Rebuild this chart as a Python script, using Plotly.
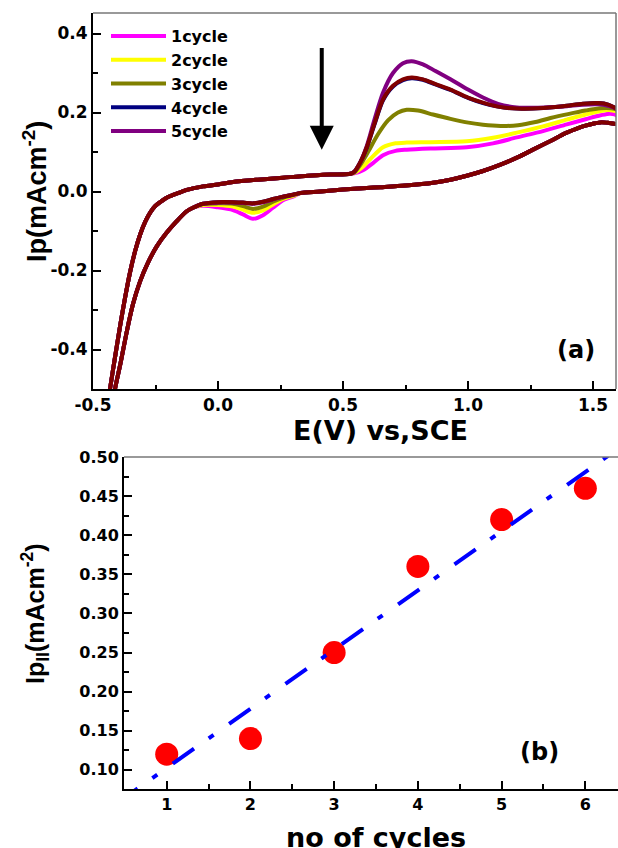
import numpy as np
import plotly.graph_objects as go

W, H = 618, 848

# ---------------- data: panel (a) cyclic voltammograms ----------------
# common forward branch (low potentials)
up_left_V = [-0.445, -0.432, -0.412, -0.392, -0.372, -0.352, -0.332, -0.312, -0.29, -0.27, -0.25,
             -0.225, -0.2, -0.16, -0.125, -0.06, 0.0, 0.06, 0.16, 0.26, 0.36, 0.45, 0.53]
up_left_I = [-0.56, -0.50, -0.42, -0.342, -0.27, -0.205, -0.152, -0.11, -0.075, -0.052, -0.036,
             -0.024, -0.014, -0.004, 0.004, 0.013, 0.018, 0.024, 0.030, 0.035, 0.040, 0.043, 0.045]

# forward branch, oxidation region, per cycle
c1_up_V = [0.545, 0.58, 0.62, 0.66, 0.71, 0.755, 0.85, 0.995, 1.1, 1.195, 1.3, 1.395, 1.47, 1.53, 1.57, 1.6]
c1_up_I = [0.046, 0.054, 0.072, 0.092, 0.103, 0.106, 0.109, 0.112, 0.122, 0.137, 0.153, 0.170, 0.183, 0.193, 0.197, 0.190]
c2_up_V = [0.545, 0.575, 0.61, 0.66, 0.71, 0.755, 0.85, 0.995, 1.1, 1.195, 1.3, 1.395, 1.47, 1.53, 1.57, 1.6]
c2_up_I = [0.047, 0.060, 0.083, 0.112, 0.122, 0.124, 0.125, 0.127, 0.136, 0.149, 0.165, 0.182, 0.195, 0.204, 0.206, 0.200]
c3_up_V = [0.545, 0.57, 0.6, 0.64, 0.68, 0.72, 0.755, 0.8, 0.86, 0.93, 0.995, 1.06, 1.13, 1.2, 1.27, 1.33, 1.4, 1.47, 1.53, 1.57, 1.6]
c3_up_I = [0.048, 0.068, 0.100, 0.145, 0.180, 0.200, 0.207, 0.205, 0.195, 0.184, 0.175, 0.169, 0.166, 0.168, 0.176, 0.186, 0.196, 0.205, 0.211, 0.211, 0.205]
c4_up_V = [0.545, 0.57, 0.595, 0.625, 0.66, 0.7, 0.74, 0.775, 0.82, 0.87, 0.93, 1.0, 1.06, 1.12, 1.195, 1.28, 1.38, 1.46, 1.52, 1.56, 1.6]
c4_up_I = [0.050, 0.075, 0.111, 0.168, 0.231, 0.266, 0.282, 0.287, 0.283, 0.271, 0.257, 0.237, 0.224, 0.215, 0.210, 0.211, 0.216, 0.222, 0.224, 0.220, 0.205]
c5_up_V = [0.545, 0.57, 0.595, 0.625, 0.66, 0.7, 0.74, 0.775, 0.82, 0.87, 0.93, 1.0, 1.06, 1.12, 1.195, 1.28, 1.38, 1.46, 1.52, 1.56, 1.6]
c5_up_I = [0.050, 0.075, 0.115, 0.180, 0.250, 0.300, 0.325, 0.330, 0.322, 0.305, 0.284, 0.258, 0.238, 0.222, 0.213, 0.212, 0.215, 0.220, 0.221, 0.217, 0.205]
c6_up_V = [0.545, 0.57, 0.595, 0.625, 0.66, 0.7, 0.74, 0.775, 0.82, 0.87, 0.93, 1.0, 1.06, 1.12, 1.195, 1.28, 1.38, 1.46, 1.52, 1.56, 1.6]
c6_up_I = [0.050, 0.075, 0.112, 0.170, 0.233, 0.268, 0.284, 0.289, 0.284, 0.272, 0.258, 0.238, 0.225, 0.215, 0.210, 0.211, 0.216, 0.222, 0.224, 0.220, 0.205]

# common reverse branch (high potentials)
down_right_V = [1.6, 1.56, 1.53, 1.47, 1.395, 1.33, 1.26, 1.2, 1.13, 1.06, 0.995, 0.93, 0.86, 0.75, 0.65, 0.595, 0.5, 0.41, 0.33]
down_right_I = [0.172, 0.174, 0.175, 0.167, 0.149, 0.128, 0.106, 0.087, 0.068, 0.052, 0.040, 0.030, 0.022, 0.015, 0.011, 0.009, 0.005, 0.000, -0.004]

# reverse branch, reduction dip, per cycle
dip_V = [0.3, 0.26, 0.22, 0.18, 0.14, 0.1, 0.06, 0.0, -0.06]
c1_dip_I = [-0.013, -0.022, -0.041, -0.060, -0.069, -0.058, -0.047, -0.040, -0.036]
c2_dip_I = [-0.011, -0.019, -0.033, -0.048, -0.054, -0.046, -0.038, -0.034, -0.034]
c3_dip_I = [-0.009, -0.016, -0.026, -0.038, -0.044, -0.037, -0.031, -0.030, -0.032]
c4_dip_I = [-0.008, -0.013, -0.019, -0.026, -0.030, -0.028, -0.027, -0.027, -0.031]
c5_dip_I = [-0.008, -0.013, -0.020, -0.027, -0.031, -0.029, -0.028, -0.028, -0.031]
c6_dip_I = [-0.008, -0.013, -0.019, -0.026, -0.030, -0.028, -0.027, -0.027, -0.031]

# common reverse branch (low potentials)
down_left_V = [-0.1, -0.125, -0.165, -0.205, -0.245, -0.28, -0.312, -0.34, -0.364, -0.39, -0.412, -0.425]
down_left_I = [-0.041, -0.050, -0.075, -0.104, -0.139, -0.180, -0.228, -0.285, -0.352, -0.435, -0.500, -0.550]

cycle_names = ["1cycle", "2cycle", "3cycle", "4cycle", "5cycle", ""]
cycle_colors = ["#FF00FF", "#FFFF00", "#808000", "#000080", "#800080", "#800000"]
cycle_up = [(c1_up_V, c1_up_I), (c2_up_V, c2_up_I), (c3_up_V, c3_up_I),
            (c4_up_V, c4_up_I), (c5_up_V, c5_up_I), (c6_up_V, c6_up_I)]
cycle_dip = [c1_dip_I, c2_dip_I, c3_dip_I, c4_dip_I, c5_dip_I, c6_dip_I]

a_xticks = [-0.5, 0.0, 0.5, 1.0, 1.5]
a_xticktext = ["-0.5", "0.0", "0.5", "1.0", "1.5"]
a_yticks = [-0.4, -0.2, 0.0, 0.2, 0.4]
a_yticktext = ["-0.4", "-0.2", "0.0", "0.2", "0.4"]

# ---------------- data: panel (b) peak current vs cycles ----------------
n_cycles = [1, 2, 3, 4, 5, 6]
ip_II = [0.12, 0.14, 0.25, 0.36, 0.42, 0.46]
b_xticks = [1, 2, 3, 4, 5, 6]
b_yticks = [0.10, 0.15, 0.20, 0.25, 0.30, 0.35, 0.40, 0.45, 0.50]

# ---------------- helpers (layout only) ----------------
def px(x):
    return x / W

def py(y):
    return 1 - y / H

FONT = "DejaVu Sans"
FONT2 = "Liberation Sans"

fig = go.Figure()

for k in range(6):
    uv, ui = cycle_up[k]
    V = up_left_V + uv + down_right_V + dip_V + down_left_V
    I = up_left_I + ui + down_right_I + cycle_dip[k] + down_left_I
    fig.add_trace(go.Scatter(
        x=V, y=I, mode="lines", name=cycle_names[k],
        line=dict(color=cycle_colors[k], width=4, shape="spline", smoothing=0.8),
        showlegend=(k < 5), xaxis="x", yaxis="y"))

# panel b
fig.add_trace(go.Scatter(
    x=n_cycles, y=ip_II, mode="markers", showlegend=False,
    marker=dict(color="#FF0000", size=23, line=dict(width=0)),
    xaxis="x2", yaxis="y2"))
slope, intercept = np.polyfit(n_cycles, ip_II, 1)
fit_x = [0.4, 6.5]
fit_y = [slope * v + intercept for v in fit_x]
fig.add_trace(go.Scatter(
    x=fit_x, y=fit_y, mode="lines", showlegend=False,
    line=dict(color="#0000FF", width=4, dash="26px,18px,6px,19px"),
    xaxis="x2", yaxis="y2"))

axis_common = dict(showgrid=False, zeroline=False, showline=True, linecolor="black", linewidth=2,
                   ticks="inside", ticklen=8, tickwidth=2, tickcolor="black", automargin=False)

def bold(family, size):
    return dict(family=family, size=size, color="black", weight="bold")

fig.update_layout(
    template="none",
    width=W, height=H, margin=dict(l=0, r=0, t=0, b=0, autoexpand=False),
    paper_bgcolor="white", plot_bgcolor="white",
    xaxis=dict(domain=[px(93), px(616)], range=[-0.5, 1.592], anchor="y",
               tickmode="array", tickvals=a_xticks, ticktext=a_xticktext,
               tickfont=bold(FONT, 17),
               minor=dict(ticks="inside", ticklen=4.5, tickwidth=2, tickcolor="black",
                          tickmode="linear", tick0=-0.25, dtick=0.25),
               **axis_common),
    yaxis=dict(domain=[py(389), py(13)], range=[-0.5, 0.452], anchor="x",
               tickmode="array", tickvals=a_yticks, ticktext=a_yticktext,
               tickfont=bold(FONT, 17),
               minor=dict(ticks="inside", ticklen=4.5, tickwidth=2, tickcolor="black",
                          tickmode="linear", tick0=-0.1, dtick=0.1),
               **axis_common),
    xaxis2=dict(domain=[px(124), 1.0], range=[0.49, 6.39], anchor="y2",
                tickmode="array", tickvals=b_xticks,
                tickfont=bold(FONT, 16),
                minor=dict(ticks="inside", ticklen=5, tickwidth=2, tickcolor="black",
                           tickmode="linear", tick0=0.5, dtick=0.5),
                **axis_common),
    yaxis2=dict(domain=[py(789), py(457)], range=[0.0755, 0.5], anchor="x2",
                tickmode="array", tickvals=b_yticks, tickformat=".2f",
                tickfont=bold(FONT, 16),
                minor=dict(ticks="inside", ticklen=5, tickwidth=2, tickcolor="black",
                           tickmode="linear", tick0=0.075, dtick=0.05),
                **axis_common),
    legend=dict(x=px(106), y=py(19), xanchor="left", yanchor="top", itemwidth=55,
                bgcolor="rgba(0,0,0,0)", borderwidth=0, tracegroupgap=0,
                font=bold(FONT, 16)),
    shapes=[
        dict(type="line", xref="x domain", yref="y domain", x0=0, x1=1, y0=1, y1=1,
             line=dict(color="#777777", width=1.5)),
        dict(type="line", xref="x domain", yref="y domain", x0=1, x1=1, y0=0, y1=1,
             line=dict(color="#777777", width=1.5)),
        dict(type="line", xref="x2 domain", yref="y2 domain", x0=0, x1=1, y0=1, y1=1,
             line=dict(color="#777777", width=1.5)),
    ],
    annotations=[
        dict(x=0.415, y=0.106, ax=0.415, ay=0.367, xref="x", yref="y", axref="x", ayref="y",
             text="", showarrow=True, arrowhead=2, arrowwidth=4, arrowsize=1.2,
             arrowcolor="black", standoff=0),
        dict(x=px(381), y=py(430), xref="paper", yref="paper", text="E(V) vs,SCE",
             showarrow=False, xanchor="center", yanchor="middle", font=bold(FONT, 27)),
        dict(x=px(35), y=py(192), xref="paper", yref="paper", text="Ip(mAcm<sup>-2</sup>)",
             showarrow=False, textangle=-90, xanchor="center", yanchor="middle",
             font=bold(FONT2, 27)),
        dict(x=px(576), y=py(350), xref="paper", yref="paper", text="(a)",
             showarrow=False, xanchor="center", yanchor="middle", font=bold(FONT, 24)),
        dict(x=px(35), y=py(614), xref="paper", yref="paper",
             text="Ip<sub>II</sub>(mAcm<sup>-2</sup>)",
             showarrow=False, textangle=-90, xanchor="center", yanchor="middle",
             font=bold(FONT2, 25)),
        dict(x=px(539), y=py(752), xref="paper", yref="paper", text="(b)",
             showarrow=False, xanchor="center", yanchor="middle", font=bold(FONT, 24)),
        dict(x=px(376), y=py(837), xref="paper", yref="paper", text="no of cycles",
             showarrow=False, xanchor="center", yanchor="middle", font=bold(FONT, 27)),
    ],
)

fig.write_html("out.html", config={"displayModeBar": False},
               post_script="document.body.style.margin='0';document.body.style.padding='0';")
